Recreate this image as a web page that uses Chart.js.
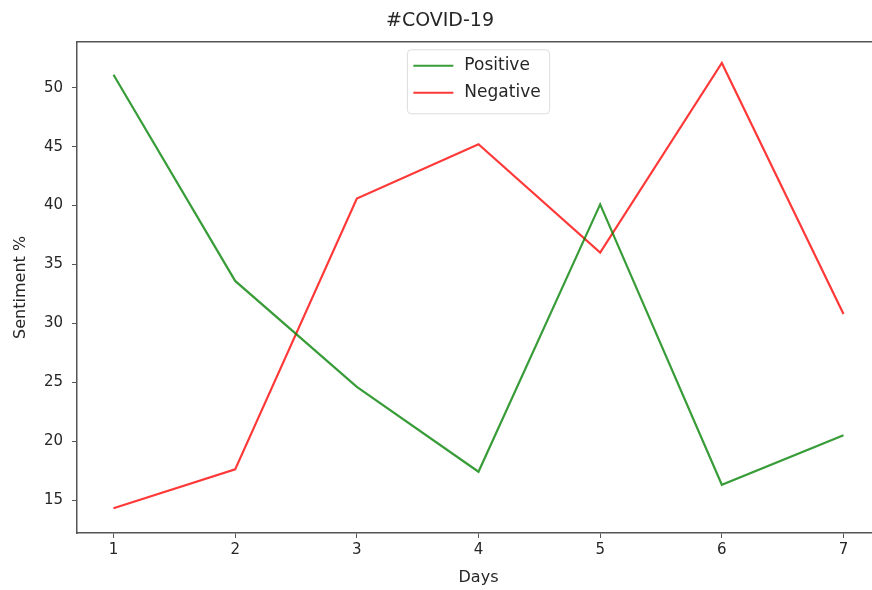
<!DOCTYPE html>
<html>
<head>
<meta charset="utf-8">
<script src="https://cdn.jsdelivr.net/npm/chart.js@4/dist/chart.umd.min.js"></script>
<style>
  html, body { margin: 0; padding: 0; background: #fff; overflow: hidden; }
  #wrap { width: 880px; height: 590px; }
</style>
</head>
<body>
<div id="wrap"><canvas id="chart" width="880" height="590"></canvas></div>
<script>
// data
const days = [1, 2, 3, 4, 5, 6, 7];
const positive = [51.1, 33.6, 24.6, 17.4, 40.1, 16.3, 20.5];
const negative = [14.3, 17.6, 40.6, 45.2, 36.0, 52.1, 30.8];
const yTicks = [15, 20, 25, 30, 35, 40, 45, 50];

const FONT = "'DejaVu Sans', sans-serif";
const TEXT = '#262626';
const SPINE = '#555';

// matplotlib style legend, upper center inside the plot
const innerLegend = {
  id: 'innerLegend',
  afterDraw(chart) {
    const { ctx, chartArea } = chart;
    const sets = chart.data.datasets;
    ctx.save();
    ctx.font = '17px ' + FONT;
    const textW = Math.max(...sets.map((d) => ctx.measureText(d.label).width));
    const w = 6 + 40 + 12 + textW + 8;
    const rowH = 27;
    const h = sets.length * rowH + 10;
    const x = (chartArea.left + chartArea.right) / 2 - w / 2;
    const y = chartArea.top + 8;
    ctx.beginPath();
    ctx.roundRect(x, y, w, h, 4);
    ctx.fillStyle = 'rgba(255,255,255,0.8)';
    ctx.fill();
    ctx.strokeStyle = '#dcdcdc';
    ctx.lineWidth = 1;
    ctx.stroke();
    sets.forEach((d, i) => {
      const cy = y + 16 + i * rowH;
      ctx.beginPath();
      ctx.moveTo(x + 6, cy);
      ctx.lineTo(x + 46, cy);
      ctx.strokeStyle = d.borderColor;
      ctx.lineWidth = 2;
      ctx.stroke();
      ctx.fillStyle = TEXT;
      ctx.textBaseline = 'middle';
      ctx.fillText(d.label, x + 57, cy);
    });
    ctx.restore();
  },
};

// top spine
const topSpine = {
  id: 'topSpine',
  afterDraw(chart) {
    const { ctx, chartArea } = chart;
    ctx.save();
    ctx.strokeStyle = SPINE;
    ctx.lineWidth = 1.5;
    ctx.beginPath();
    ctx.moveTo(chartArea.left, chartArea.top);
    ctx.lineTo(chartArea.right, chartArea.top);
    ctx.stroke();
    ctx.restore();
  },
};

new Chart(document.getElementById('chart'), {
  type: 'line',
  data: {
    datasets: [
      {
        label: 'Positive',
        data: days.map((d, i) => ({ x: d, y: positive[i] })),
        borderColor: 'rgba(0,128,0,0.78)',
        borderWidth: 2.2,
        pointRadius: 0,
        tension: 0,
      },
      {
        label: 'Negative',
        data: days.map((d, i) => ({ x: d, y: negative[i] })),
        borderColor: 'rgba(255,0,0,0.78)',
        borderWidth: 2.2,
        pointRadius: 0,
        tension: 0,
      },
    ],
  },
  options: {
    responsive: false,
    animation: false,
    layout: { padding: 0 },
    plugins: {
      legend: { display: false },
      tooltip: { enabled: false },
      title: {
        display: true,
        text: '#COVID-19',
        color: TEXT,
        font: { family: FONT, size: 19, weight: 'normal' },
        padding: { top: 10, bottom: 9 },
      },
    },
    scales: {
      x: {
        type: 'linear',
        min: 0.7,
        max: 7.3,
        afterBuildTicks: (scale) => { scale.ticks = days.map((v) => ({ value: v })); },
        afterFit: (scale) => { scale.height = 57; },
        grid: { display: true, drawOnChartArea: false, drawTicks: true, tickLength: 5, color: SPINE },
        border: { display: true, color: SPINE, width: 1.5 },
        ticks: { color: TEXT, font: { family: FONT, size: 15 }, padding: 3, maxRotation: 0 },
        title: {
          display: true,
          text: 'Days',
          color: TEXT,
          font: { family: FONT, size: 16 },
          padding: { top: 3, bottom: 3 },
        },
      },
      y: {
        type: 'linear',
        min: 12.2,
        max: 53.9,
        afterBuildTicks: (scale) => { scale.ticks = yTicks.map((v) => ({ value: v })); },
        afterFit: (scale) => { scale.width = 77; },
        grid: { display: true, drawOnChartArea: false, drawTicks: true, tickLength: 5, color: SPINE },
        border: { display: true, color: SPINE, width: 1.5 },
        ticks: { color: TEXT, font: { family: FONT, size: 15 }, padding: 9 },
        title: {
          display: true,
          text: 'Sentiment %',
          color: TEXT,
          font: { family: FONT, size: 16 },
          padding: { top: 11, bottom: 11 },
        },
      },
    },
  },
  plugins: [innerLegend, topSpine],
});
</script>
</body>
</html>
